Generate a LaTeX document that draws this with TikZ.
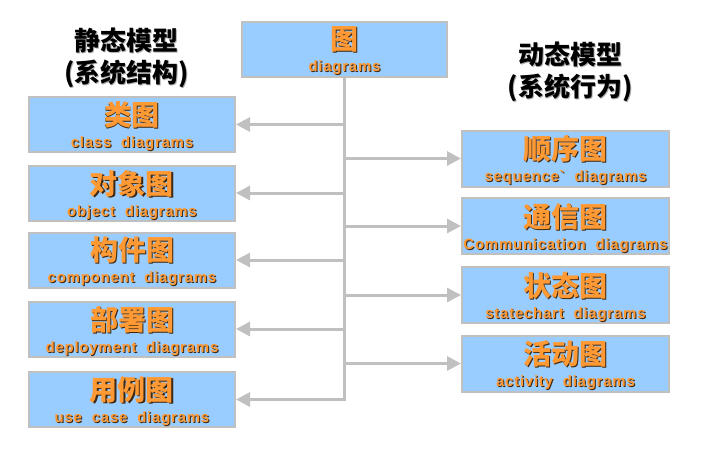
\documentclass[tikz,border=0pt]{standalone}
\usepackage{fontspec}
\usepackage{tikz}
\usetikzlibrary{arrows.meta}
\newfontfamily\cjk{Noto Sans CJK SC}
\newfontfamily\eng{Liberation Sans}[LetterSpace=5,Ligatures=TeXOff]
\definecolor{boxblue}{RGB}{153,204,255}
\definecolor{boxgray}{RGB}{192,192,192}
\definecolor{txtorange}{RGB}{255,153,51}
\definecolor{shadowdark}{RGB}{60,40,20}
\definecolor{shadowgray}{RGB}{175,175,175}
\newcommand\shadowed[2]{\rlap{\kern1pt\raisebox{-1pt}{\color{#1}#2}}#2}
\newcommand\umlbox[2]{\shadowed{shadowdark}{\cjk\bfseries\fontsize{28}{22}\selectfont #1}\\\smash{\shadowed{shadowdark}{\bfseries #2}}}
\newcommand\headline[1]{\shadowed{shadowgray}{#1}}
\tikzset{
  diagbox/.style={draw=boxgray, line width=2pt, fill=boxblue, minimum width=206pt,
    minimum height=55pt, inner sep=0pt, align=center, text=txtorange,
    font={\eng\fontsize{15}{22}\selectfont}},
  heading/.style={align=center, font={\cjk\bfseries\fontsize{26}{32}\selectfont}},
  link/.style={draw=boxgray, line width=3pt, -{Triangle[length=14pt,width=14pt]}}
}
\begin{document}
\begin{tikzpicture}[x=1pt, y=-1pt]
\useasboundingbox (0,0) rectangle (721,451);

\node[heading] (static) at (127,58) {\headline{静态模型}\\\headline{(系统结构)}};
\node[heading] (dynamic) at (570,72) {\headline{动态模型}\\\headline{(系统行为)}};

\node[diagbox, minimum width=205pt] (diag) at (344.5,49.5) {\umlbox{图}{diagrams}};

\node[diagbox] (cls) at (132,124.5) {\umlbox{类图}{class\ \ diagrams}};
\node[diagbox] (obj) at (132,193) {\umlbox{对象图}{object\ \ diagrams}};
\node[diagbox] (comp) at (132,260) {\umlbox{构件图}{component\ \ diagrams}};
\node[diagbox] (depl) at (132,329) {\umlbox{部署图}{deployment\ \ diagrams}};
\node[diagbox] (usecase) at (132,399.5) {\umlbox{用例图}{use\ \ case\ \ diagrams}};

\node[diagbox, minimum width=207pt, minimum height=56pt] (seq) at (565.5,158.5) {\umlbox{顺序图}{sequence`\ \ diagrams}};
\node[diagbox, minimum width=207pt, minimum height=56pt] (comm) at (565.5,226) {\umlbox{通信图}{Communication\ \ diagrams}};
\node[diagbox, minimum width=207pt, minimum height=56pt] (state) at (565.5,295) {\umlbox{状态图}{statechart\ \ diagrams}};
\node[diagbox, minimum width=207pt, minimum height=56pt] (act) at (565.5,363.5) {\umlbox{活动图}{activity\ \ diagrams}};

\draw[link] (diag.south) |- (cls.east);
\draw[link] (diag.south) |- (obj.east);
\draw[link] (diag.south) |- (comp.east);
\draw[link] (diag.south) |- (depl.east);
\draw[link] (diag.south) |- (usecase.east);
\draw[link] (diag.south) |- (seq.west);
\draw[link] (diag.south) |- (comm.west);
\draw[link] (diag.south) |- (state.west);
\draw[link] (diag.south) |- (act.west);

\end{tikzpicture}
\end{document}
